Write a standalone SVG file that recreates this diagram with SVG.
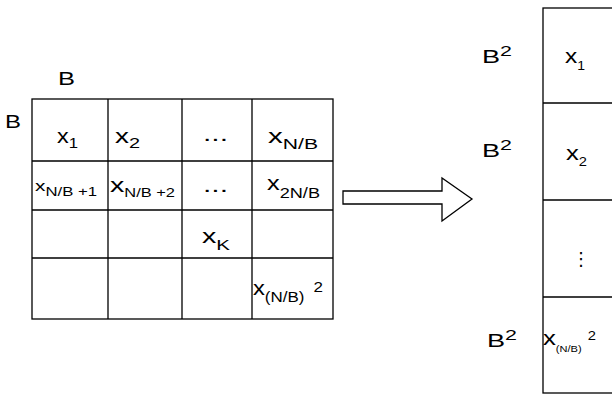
<svg xmlns="http://www.w3.org/2000/svg" width="612" height="394" viewBox="0 0 612 394">
<style>
.ln{fill:none;stroke:#000;stroke-width:1.3}
text{font-family:"Liberation Sans",Arial,sans-serif;fill:#000}
.m{font-size:21px}
.s{font-size:15px}
.ss{font-size:12px}
.lb{font-size:19px}
</style>
<rect width="612" height="394" fill="#fff"/>
<g id="labels">
<text class="lb" x="58" y="85" textLength="17" lengthAdjust="spacingAndGlyphs">B</text>
<text class="lb" x="5" y="128" textLength="16" lengthAdjust="spacingAndGlyphs">B</text>
</g>
<g id="matrix">
<rect class="ln" x="32" y="99" width="301" height="220"/>
<path class="ln" d="M108 99V319M182 99V319M252 99V319M32 161H333M32 210H333M32 258H333"/>
</g>
<g id="cell-x1"><text x="57" y="143" textLength="21" lengthAdjust="spacingAndGlyphs"><tspan class="m">x</tspan><tspan class="s" dy="5">1</tspan></text></g>
<g id="cell-x2"><text x="115" y="143" textLength="25" lengthAdjust="spacingAndGlyphs"><tspan class="m">x</tspan><tspan class="s" dy="5">2</tspan></text></g>
<g id="cell-dots1"><text class="m" x="203" y="141" textLength="25" lengthAdjust="spacingAndGlyphs">...</text></g>
<g id="cell-xNB"><text x="268" y="143" textLength="50" lengthAdjust="spacingAndGlyphs"><tspan class="m">x</tspan><tspan class="s" dy="6">N/B</tspan></text></g>
<g id="cell-xNB1"><text x="35" y="191" textLength="62" lengthAdjust="spacingAndGlyphs"><tspan class="s">x</tspan><tspan class="ss" dy="5">N/B +1</tspan></text></g>
<g id="cell-xNB2"><text x="110" y="192" textLength="65" lengthAdjust="spacingAndGlyphs"><tspan class="m">x</tspan><tspan class="ss" dy="5">N/B +2</tspan></text></g>
<g id="cell-dots2"><text class="m" x="203" y="192" textLength="25" lengthAdjust="spacingAndGlyphs">...</text></g>
<g id="cell-x2NB"><text x="267" y="190" textLength="53" lengthAdjust="spacingAndGlyphs"><tspan class="m">x</tspan><tspan class="s" dy="8">2N/B</tspan></text></g>
<g id="cell-xK"><text x="202" y="243" textLength="28" lengthAdjust="spacingAndGlyphs"><tspan class="m">x</tspan><tspan class="s" dy="7">K</tspan></text></g>
<g id="cell-xlast"><text x="253" y="295" textLength="70" lengthAdjust="spacingAndGlyphs"><tspan class="m">x</tspan><tspan class="s" dy="7">(N/B)</tspan><tspan class="s" dx="8" dy="-10">2</tspan></text></g>
<g id="connectors">
<polygon class="ln" points="343,191 442,191 442,178 472,199 442,221 442,204 343,204"/>
</g>
<g id="vector">
<rect class="ln" x="543" y="8" width="80" height="385"/>
<path class="ln" d="M543 103H612M543 200H612M543 297H612"/>
</g>
<g id="row-b1">
<text x="482" y="63" textLength="30" lengthAdjust="spacingAndGlyphs"><tspan class="lb">B</tspan><tspan class="s" dy="-7">2</tspan></text>
<text x="565" y="63" textLength="20" lengthAdjust="spacingAndGlyphs"><tspan class="m">x</tspan><tspan class="ss" dy="7">1</tspan></text>
</g>
<g id="row-b2">
<text x="482" y="157" textLength="30" lengthAdjust="spacingAndGlyphs"><tspan class="lb">B</tspan><tspan class="s" dy="-7">2</tspan></text>
<text x="566" y="160" textLength="21" lengthAdjust="spacingAndGlyphs"><tspan class="m">x</tspan><tspan class="ss" dy="6">2</tspan></text>
</g>
<g id="row-dots"><text x="572" y="265" style="font-family:'DejaVu Sans',sans-serif;font-size:18px">⋮</text></g>
<g id="row-b3">
<text x="487" y="347" textLength="30" lengthAdjust="spacingAndGlyphs"><tspan class="lb">B</tspan><tspan class="s" dy="-7">2</tspan></text>
<text x="543" y="345" textLength="53" lengthAdjust="spacingAndGlyphs"><tspan class="m">x</tspan><tspan style="font-size:9px" dy="7">(N/B)</tspan><tspan class="ss" dx="5" dy="-12">2</tspan></text>
</g>
</svg>
